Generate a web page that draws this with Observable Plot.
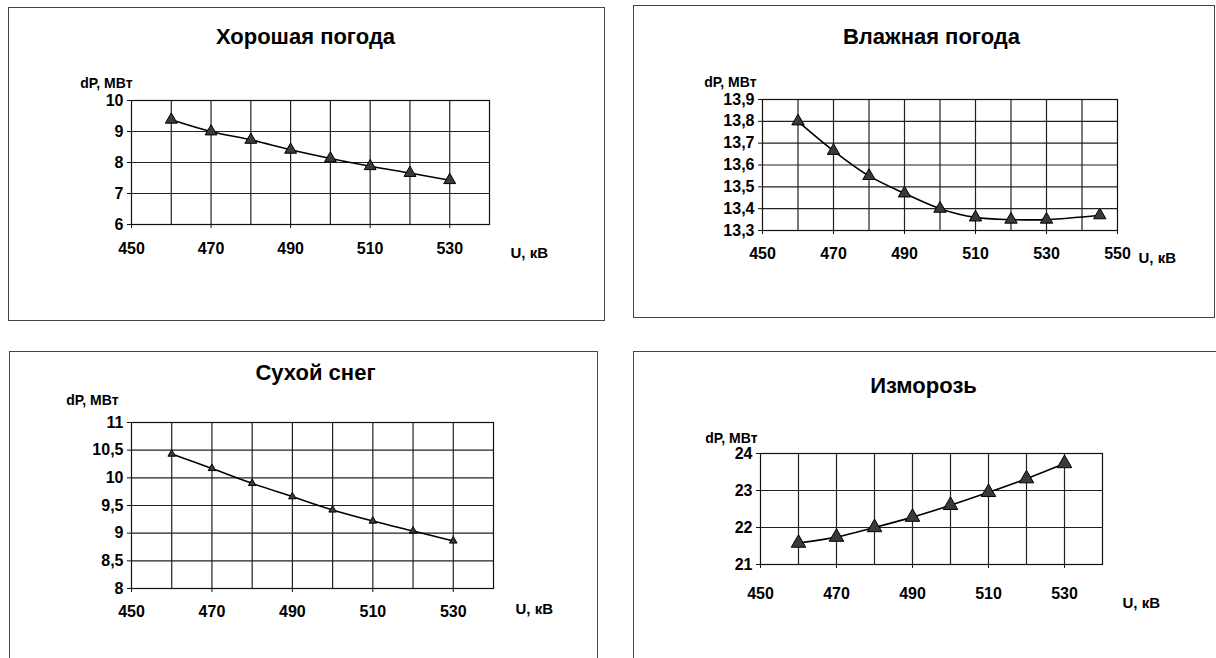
<!DOCTYPE html>
<html>
<head>
<meta charset="utf-8">
<script src="https://cdn.jsdelivr.net/npm/d3@7"></script>
<script src="https://cdn.jsdelivr.net/npm/@observablehq/plot@0.6"></script>
<style>
  html, body { margin: 0; padding: 0; background: #fff; }
  #page { position: relative; width: 1216px; height: 658px; overflow: hidden; background: #fff;
          font-family: "Liberation Sans", Arial, sans-serif; }
  .box { position: absolute; box-sizing: border-box; border: 1px solid #444; }
  .panel { position: absolute; }
</style>
</head>
<body>
<div id="page"></div>
<script>
// ---------- data ----------
const titles = ["Хорошая погода", "Влажная погода", "Сухой снег", "Изморозь"];
const yLabel = "dP, МВт";
const xLabel = "U, кВ";

const U = [460, 470, 480, 490, 500, 510, 520, 530];
const U_wet = [460, 470, 480, 490, 500, 510, 520, 530, 545];

const dP_good = [9.38, 9.0, 8.73, 8.41, 8.13, 7.88, 7.66, 7.43];
const dP_wet = [13.80, 13.665, 13.55, 13.47, 13.40, 13.36, 13.35, 13.35, 13.37];
const dP_snow = [10.43, 10.17, 9.90, 9.66, 9.42, 9.22, 9.04, 8.86];
const dP_frost = [21.58, 21.74, 22.0, 22.28, 22.6, 22.95, 23.32, 23.73];

const xTicks = [450, 470, 490, 510, 530];
const xTicks_wet = [450, 470, 490, 510, 530, 550];
const xGrid = [460, 470, 480, 490, 500, 510, 520, 530];
const xGrid_wet = [460, 470, 480, 490, 500, 510, 520, 530, 540];

const yTicks_good = [6, 7, 8, 9, 10];
const yTicks_wet = [13.3, 13.4, 13.5, 13.6, 13.7, 13.8, 13.9];
const yTicks_snow = [8, 8.5, 9, 9.5, 10, 10.5, 11];
const yTicks_frost = [21, 22, 23, 24];

// ---------- layout (page coordinates) ----------
const panels = [
  { title: titles[0], xs: U, ys: dP_good, xDomain: [450, 540], yDomain: [6, 10],
    xTicks, xGrid, yTicks: yTicks_good, r: 4.4,
    box: {L: 8, T: 7, R: 605, B: 321}, frame: {l: 131, r: 489, t: 100, b: 224},
    titleAt: [305, 43], dpAt: [132, 87], uAt: [510, 257], xPad: 14 },
  { title: titles[1], xs: U_wet, ys: dP_wet, xDomain: [450, 550], yDomain: [13.3, 13.9],
    xTicks: xTicks_wet, xGrid: xGrid_wet, yTicks: yTicks_wet, r: 4.6,
    box: {L: 633, T: 5, R: 1215, B: 318}, frame: {l: 762, r: 1117, t: 99, b: 230},
    titleAt: [931, 43], dpAt: [756, 86], uAt: [1138, 262], xPad: 13 },
  { title: titles[2], xs: U, ys: dP_snow, xDomain: [450, 540], yDomain: [8, 11],
    xTicks, xGrid, yTicks: yTicks_snow, r: 2.8,
    box: {L: 9, T: 351, R: 598, B: 680}, frame: {l: 131, r: 493, t: 422, b: 588},
    titleAt: [315, 379], dpAt: [118, 404], uAt: [515, 613], xPad: 13 },
  { title: titles[3], xs: U, ys: dP_frost, xDomain: [450, 540], yDomain: [21, 24],
    xTicks, xGrid, yTicks: yTicks_frost, r: 5.4,
    box: {L: 633, T: 351, R: 1222, B: 680}, frame: {l: 760, r: 1102, t: 453, b: 564},
    titleAt: [923, 392], dpAt: [757, 442], uAt: [1122, 607], xPad: 19 }
];

const fmt = d => String(Math.round(d * 10) / 10).replace(".", ",");
const page = document.getElementById("page");
const FONT = "'Liberation Sans', Arial, Helvetica, sans-serif";

for (const p of panels) {
  const box = document.createElement("div");
  box.className = "box";
  Object.assign(box.style, {
    left: p.box.L + "px", top: p.box.T + "px",
    width: (p.box.R - p.box.L) + "px", height: (p.box.B - p.box.T) + "px"
  });
  page.appendChild(box);

  const W = p.box.R - p.box.L;
  const H = Math.min(p.box.B, 658) - p.box.T;
  const mL = p.frame.l - p.box.L, mR = p.box.R - p.frame.r;
  const mT = p.frame.t - p.box.T, mB = H - (p.frame.b - p.box.T);
  const data = p.xs.map((x, i) => ({x, y: p.ys[i]}));

  const tFs = 22, lFs = 14, uFs = 15;
  const chart = Plot.plot({
    width: W, height: H,
    marginLeft: mL, marginRight: mR, marginTop: mT, marginBottom: mB,
    style: {fontFamily: FONT, fontSize: "16px", fontWeight: "bold", color: "#000", background: "transparent", overflow: "visible"},
    x: {domain: p.xDomain, axis: null},
    y: {domain: p.yDomain, axis: null},
    marks: [
      Plot.gridX(p.xGrid, {stroke: "#222", strokeOpacity: 1, strokeWidth: 1.2}),
      Plot.gridY(p.yTicks, {stroke: "#222", strokeOpacity: 1, strokeWidth: 1.2}),
      Plot.frame({stroke: "#111", strokeWidth: 1.2}),
      Plot.axisX(p.xTicks, {anchor: "bottom", tickSize: 4, tickPadding: p.xPad, tickFormat: d => String(d),
        fontSize: 16, fontWeight: "bold", fill: "#000", stroke: "#111", label: null}),
      Plot.axisY(p.yTicks, {anchor: "left", tickSize: 4, tickPadding: 4, tickFormat: fmt,
        fontSize: 16, fontWeight: "bold", fill: "#000", stroke: "#111", label: null}),
      Plot.line(data, {x: "x", y: "y", curve: "catmull-rom", stroke: "#000", strokeWidth: 1.6}),
      Plot.dot(data, {x: "x", y: "y", symbol: "triangle", r: p.r, fill: "#3a3a3a", stroke: "#000", strokeWidth: 1}),
      Plot.text([p.title], {frameAnchor: "top-left", text: d => d, textAnchor: "middle", lineAnchor: "middle",
        dx: p.titleAt[0] - p.frame.l, dy: (p.titleAt[1] - 0.32 * tFs) - p.frame.t,
        fontSize: tFs, fontWeight: "bold", fill: "#000"}),
      Plot.text([yLabel], {frameAnchor: "top-left", text: d => d, textAnchor: "end", lineAnchor: "middle",
        dx: p.dpAt[0] - p.frame.l, dy: (p.dpAt[1] - 0.32 * lFs) - p.frame.t,
        fontSize: lFs, fontWeight: "bold", fill: "#000"}),
      Plot.text([xLabel], {frameAnchor: "bottom-right", text: d => d, textAnchor: "start", lineAnchor: "middle",
        dx: p.uAt[0] - p.frame.r, dy: (p.uAt[1] - 0.32 * uFs) - p.frame.b,
        fontSize: uFs, fontWeight: "bold", fill: "#000"})
    ]
  });
  const holder = document.createElement("div");
  holder.className = "panel";
  Object.assign(holder.style, {left: p.box.L + "px", top: p.box.T + "px", width: W + "px", height: H + "px"});
  holder.appendChild(chart);
  page.appendChild(holder);
}
</script>
</body>
</html>
